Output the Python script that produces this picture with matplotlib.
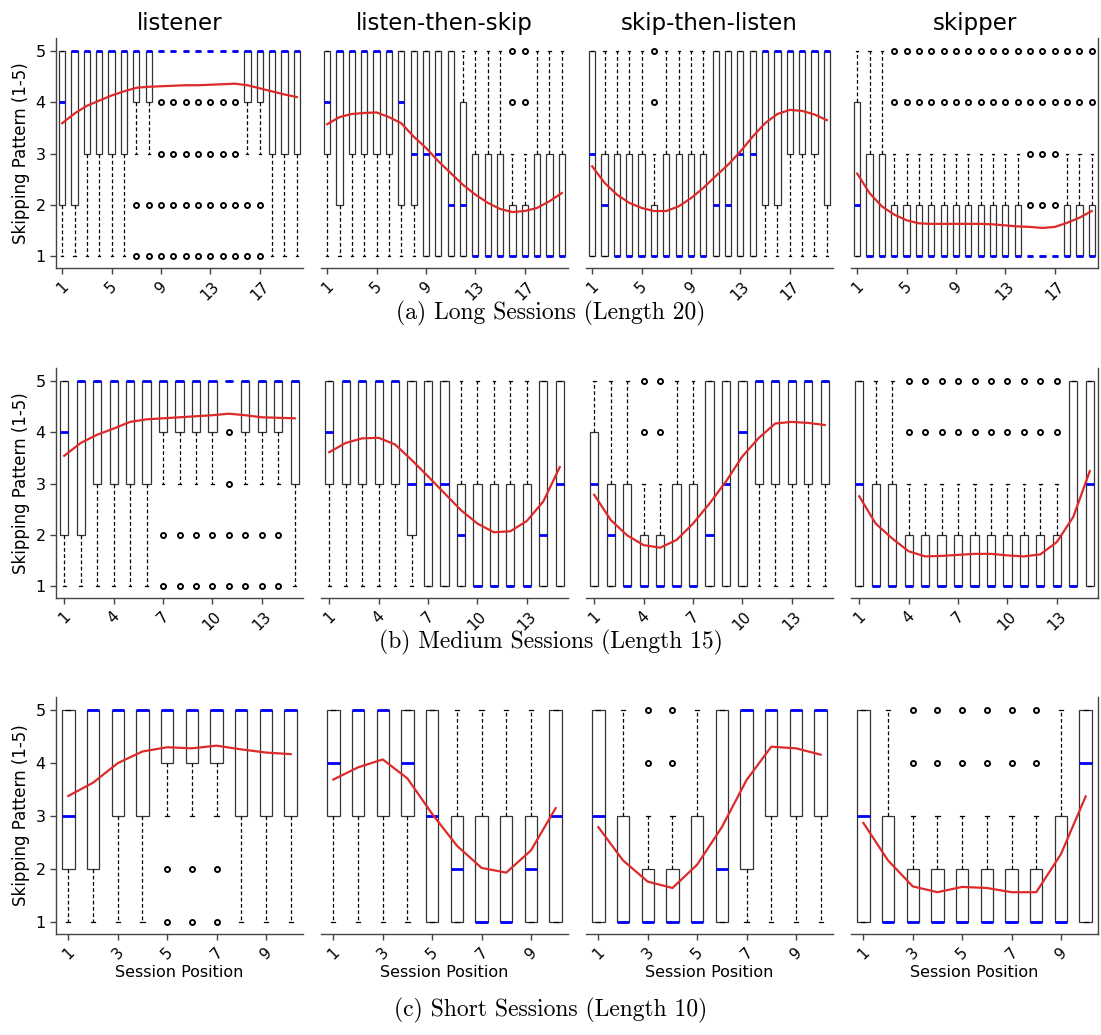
import matplotlib
matplotlib.use("Agg")
import matplotlib.pyplot as plt

patterns = ["listener", "listen-then-skip", "skip-then-listen", "skipper"]
captions = ["(a) Long Sessions (Length 20)", "(b) Medium Sessions (Length 15)",
            "(c) Short Sessions (Length 10)"]
lengths = [20, 15, 10]
tick_steps = [4, 3, 2]
yticks = [1, 2, 3, 4, 5]

# box stats per position: (whisker low, q1, median, q3, whisker high)
L20_listener_box = [(1,2,4,5,5),(1,2,5,5,5),(1,3,5,5,5),(1,3,5,5,5),(1,3,5,5,5),(1,3,5,5,5),
                    (3,4,5,5,5),(3,4,5,5,5),(5,5,5,5,5),(5,5,5,5,5),(5,5,5,5,5),(5,5,5,5,5),
                    (5,5,5,5,5),(5,5,5,5,5),(5,5,5,5,5),(3,4,5,5,5),(3,4,5,5,5),(1,3,5,5,5),
                    (1,3,5,5,5),(1,3,5,5,5)]
L20_listener_fliers = [[],[],[],[],[],[],[1,2],[1,2],[1,2,3,4],[1,2,3,4],[1,2,3,4],[1,2,3,4],
                       [1,2,3,4],[1,2,3,4],[1,2,3,4],[1,2],[1,2],[],[],[]]
L20_listener_mean = [3.59,3.78,3.93,4.03,4.13,4.21,4.28,4.30,4.31,4.32,4.33,4.33,4.34,4.35,
                     4.36,4.33,4.27,4.21,4.15,4.10]

L20_lts_box = [(1,3,4,5,5),(1,2,5,5,5),(1,3,5,5,5),(1,3,5,5,5),(1,3,5,5,5),(1,3,5,5,5),
               (1,2,4,5,5),(1,2,3,5,5),(1,1,3,5,5),(1,1,3,5,5),(1,1,2,5,5),(1,1,2,4,5),
               (1,1,1,3,5),(1,1,1,3,5),(1,1,1,3,5),(1,1,1,2,3),(1,1,1,2,3),(1,1,1,3,5),
               (1,1,1,3,5),(1,1,1,3,5)]
L20_lts_fliers = [[],[],[],[],[],[],[],[],[],[],[],[],[],[],[],[4,5],[4,5],[],[],[]]
L20_lts_mean = [3.57,3.71,3.77,3.79,3.80,3.71,3.59,3.33,3.11,2.85,2.62,2.39,2.20,2.04,1.92,
                1.86,1.88,1.94,2.07,2.23]

L20_stl_box = [(1,1,3,5,5),(1,1,2,3,5),(1,1,1,3,5),(1,1,1,3,5),(1,1,1,3,5),(1,1,1,2,3),
               (1,1,1,3,5),(1,1,1,3,5),(1,1,1,3,5),(1,1,1,3,5),(1,1,2,5,5),(1,1,2,5,5),
               (1,1,3,5,5),(1,1,3,5,5),(1,2,5,5,5),(1,2,5,5,5),(1,3,5,5,5),(1,3,5,5,5),
               (1,3,5,5,5),(1,2,5,5,5)]
L20_stl_fliers = [[],[],[],[],[],[4,5],[],[],[],[],[],[],[],[],[],[],[],[],[],[]]
L20_stl_mean = [2.75,2.43,2.20,2.04,1.94,1.88,1.88,1.97,2.13,2.33,2.56,2.78,3.04,3.33,3.59,
                3.77,3.85,3.83,3.76,3.65]

L20_skipper_box = [(1,1,2,4,5),(1,1,1,3,5),(1,1,1,3,5),(1,1,1,2,3),(1,1,1,2,3),(1,1,1,2,3),
                   (1,1,1,2,3),(1,1,1,2,3),(1,1,1,2,3),(1,1,1,2,3),(1,1,1,2,3),(1,1,1,2,3),
                   (1,1,1,2,3),(1,1,1,2,3),(1,1,1,1,1),(1,1,1,1,1),(1,1,1,1,1),(1,1,1,2,3),
                   (1,1,1,2,3),(1,1,1,2,3)]
L20_skipper_fliers = [[],[],[],[4,5],[4,5],[4,5],[4,5],[4,5],[4,5],[4,5],[4,5],[4,5],[4,5],
                      [4,5],[2,3,4,5],[2,3,4,5],[2,3,4,5],[4,5],[4,5],[4,5]]
L20_skipper_mean = [2.61,2.23,1.97,1.81,1.70,1.64,1.63,1.63,1.63,1.63,1.63,1.62,1.60,1.58,
                    1.57,1.55,1.57,1.65,1.75,1.88]

L15_listener_box = [(1,2,4,5,5),(1,2,5,5,5),(1,3,5,5,5),(1,3,5,5,5),(1,3,5,5,5),(1,3,5,5,5),
                    (3,4,5,5,5),(3,4,5,5,5),(3,4,5,5,5),(3,4,5,5,5),(5,5,5,5,5),(3,4,5,5,5),
                    (3,4,5,5,5),(3,4,5,5,5),(1,3,5,5,5)]
L15_listener_fliers = [[],[],[],[],[],[],[1,2],[1,2],[1,2],[1,2],[1,2,3,4],[1,2],[1,2],[1,2],[]]
L15_listener_mean = [3.54,3.79,3.95,4.07,4.20,4.25,4.27,4.29,4.31,4.33,4.36,4.33,4.29,4.28,4.27]

L15_lts_box = [(1,3,4,5,5),(1,3,5,5,5),(1,3,5,5,5),(1,3,5,5,5),(1,3,5,5,5),(1,2,3,5,5),
               (1,1,3,5,5),(1,1,3,5,5),(1,1,2,3,5),(1,1,1,3,5),(1,1,1,3,5),(1,1,1,3,5),
               (1,1,1,3,5),(1,1,2,5,5),(1,1,3,5,5)]
L15_lts_fliers = [[] for _ in range(15)]
L15_lts_mean = [3.61,3.79,3.88,3.89,3.76,3.46,3.14,2.81,2.48,2.22,2.05,2.07,2.27,2.65,3.32]

L15_stl_box = [(1,1,3,4,5),(1,1,2,3,5),(1,1,1,3,5),(1,1,1,2,3),(1,1,1,2,3),(1,1,1,3,5),
               (1,1,1,3,5),(1,1,2,5,5),(1,1,3,5,5),(1,1,4,5,5),(1,3,5,5,5),(1,3,5,5,5),
               (1,3,5,5,5),(1,3,5,5,5),(1,3,5,5,5)]
L15_stl_fliers = [[],[],[],[4,5],[4,5],[],[],[],[],[],[],[],[],[],[]]
L15_stl_mean = [2.78,2.29,1.99,1.80,1.75,1.90,2.22,2.61,3.04,3.53,3.89,4.17,4.20,4.18,4.14]

L15_skipper_box = [(1,1,3,5,5),(1,1,1,3,5),(1,1,1,3,5),(1,1,1,2,3),(1,1,1,2,3),(1,1,1,2,3),
                   (1,1,1,2,3),(1,1,1,2,3),(1,1,1,2,3),(1,1,1,2,3),(1,1,1,2,3),(1,1,1,2,3),
                   (1,1,1,2,3),(1,1,1,5,5),(1,1,3,5,5)]
L15_skipper_fliers = [[],[],[],[4,5],[4,5],[4,5],[4,5],[4,5],[4,5],[4,5],[4,5],[4,5],[4,5],[],[]]
L15_skipper_mean = [2.75,2.22,1.93,1.68,1.58,1.59,1.61,1.63,1.63,1.60,1.58,1.62,1.86,2.35,3.24]

L10_listener_box = [(1,2,3,5,5),(1,2,5,5,5),(1,3,5,5,5),(1,3,5,5,5),(3,4,5,5,5),(3,4,5,5,5),
                    (3,4,5,5,5),(1,3,5,5,5),(1,3,5,5,5),(1,3,5,5,5)]
L10_listener_fliers = [[],[],[],[],[1,2],[1,2],[1,2],[],[],[]]
L10_listener_mean = [3.38,3.63,4.00,4.22,4.30,4.28,4.33,4.26,4.20,4.17]

L10_lts_box = [(1,3,4,5,5),(1,3,5,5,5),(1,3,5,5,5),(1,3,4,5,5),(1,1,3,5,5),(1,1,2,3,5),
               (1,1,1,3,5),(1,1,1,3,5),(1,1,2,3,5),(1,1,3,5,5)]
L10_lts_fliers = [[] for _ in range(10)]
L10_lts_mean = [3.69,3.92,4.07,3.71,3.04,2.44,2.02,1.93,2.35,3.15]

L10_stl_box = [(1,1,3,5,5),(1,1,1,3,5),(1,1,1,2,3),(1,1,1,2,3),(1,1,1,3,5),(1,1,2,5,5),
               (1,2,5,5,5),(1,3,5,5,5),(1,3,5,5,5),(1,3,5,5,5)]
L10_stl_fliers = [[],[],[4,5],[4,5],[],[],[],[],[],[]]
L10_stl_mean = [2.79,2.16,1.76,1.64,2.08,2.79,3.68,4.31,4.28,4.16]

L10_skipper_box = [(1,1,3,5,5),(1,1,1,3,5),(1,1,1,2,3),(1,1,1,2,3),(1,1,1,2,3),(1,1,1,2,3),
                   (1,1,1,2,3),(1,1,1,2,3),(1,1,1,3,5),(1,1,4,5,5)]
L10_skipper_fliers = [[],[],[4,5],[4,5],[4,5],[4,5],[4,5],[4,5],[],[]]
L10_skipper_mean = [2.87,2.16,1.67,1.56,1.66,1.64,1.56,1.56,2.28,3.37]

rows = [
    [(L20_listener_box, L20_listener_fliers, L20_listener_mean),
     (L20_lts_box, L20_lts_fliers, L20_lts_mean),
     (L20_stl_box, L20_stl_fliers, L20_stl_mean),
     (L20_skipper_box, L20_skipper_fliers, L20_skipper_mean)],
    [(L15_listener_box, L15_listener_fliers, L15_listener_mean),
     (L15_lts_box, L15_lts_fliers, L15_lts_mean),
     (L15_stl_box, L15_stl_fliers, L15_stl_mean),
     (L15_skipper_box, L15_skipper_fliers, L15_skipper_mean)],
    [(L10_listener_box, L10_listener_fliers, L10_listener_mean),
     (L10_lts_box, L10_lts_fliers, L10_lts_mean),
     (L10_stl_box, L10_stl_fliers, L10_stl_mean),
     (L10_skipper_box, L10_skipper_fliers, L10_skipper_mean)],
]

W, H = 1101, 1035
plt.rcParams['font.family'] = ['DejaVu Sans']
fig = plt.figure(figsize=(W / 100, H / 100), dpi=100)

col_left = [56, 321, 586, 851]
col_w = 247
row_top = [38, 368, 697]
row_bot = [268, 598, 934]
cap_y = [313, 642, 1010]
spine_col = '#444444'

for r in range(3):
    n = lengths[r]
    pos = list(range(1, n + 1))
    for c in range(4):
        box, fl, mean = rows[r][c]
        ax = fig.add_axes([col_left[c] / W, 1 - row_bot[r] / H, col_w / W,
                           (row_bot[r] - row_top[r]) / H])
        stats = [dict(whislo=b[0], q1=b[1], med=b[2], q3=b[3], whishi=b[4], fliers=f)
                 for b, f in zip(box, fl)]
        ax.bxp(stats, positions=pos, widths=0.5, capwidths=0.17, patch_artist=True,
               boxprops=dict(facecolor='white', edgecolor='#333333', linewidth=0.9),
               medianprops=dict(color='#0000ff', linewidth=2.0, zorder=3,
                                solid_capstyle='butt'),
               whiskerprops=dict(color='black', linewidth=0.9, linestyle=(0, (3, 2))),
               capprops=dict(color='black', linewidth=0.9),
               flierprops=dict(marker='o', markersize=3.6, markerfacecolor='white',
                               markeredgecolor='black', markeredgewidth=1.4))
        ax.plot(pos, mean, color='#dd2a2a', linewidth=1.6, zorder=5)
        ax.set_xlim(0.5, n + 0.5)
        ax.set_ylim(0.77, 5.25)
        ticks = pos[::tick_steps[r]]
        ax.set_xticks(ticks)
        ax.set_xticklabels([str(t) for t in ticks], rotation=45, fontsize=11)
        ax.spines['top'].set_visible(False)
        ax.spines['right'].set_visible(c == 3)
        ax.spines['left'].set_visible(c == 0)
        for s in ax.spines.values():
            s.set_color(spine_col)
            s.set_linewidth(1.0)
        ax.tick_params(axis='both', color=spine_col, length=4, width=1.0, labelsize=11)
        if c == 0:
            ax.set_yticks(yticks)
            ax.set_yticklabels([str(t) for t in yticks], fontsize=11.5)
            ax.set_ylabel("Skipping Pattern (1-5)", fontsize=12)
        else:
            ax.set_yticks([])
        if r == 0:
            ax.set_title(patterns[c], fontsize=16.5, pad=6)
        if r == 2:
            ax.set_xlabel("Session Position", fontsize=11.5, labelpad=2)
    fig.text(0.5, 1 - cap_y[r] / H, captions[r], ha='center', va='center',
             fontsize=17, family='cmr10')

fig.savefig("out.png", dpi=100)
